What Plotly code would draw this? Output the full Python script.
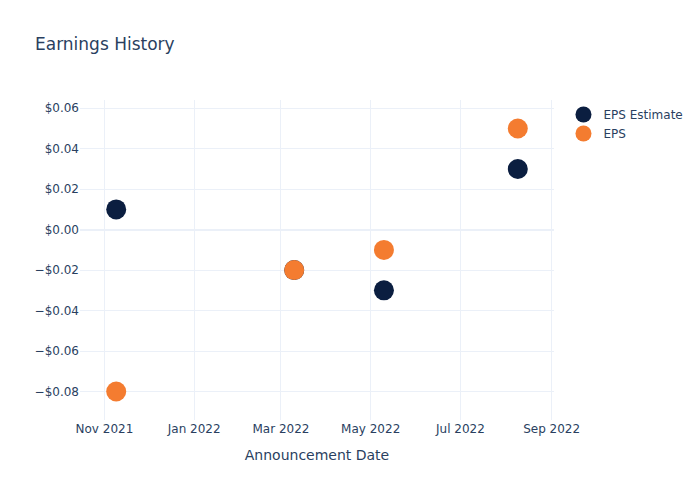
import plotly.graph_objects as go

dates = ["2021-11-09", "2022-03-10", "2022-05-10", "2022-08-09"]
eps_estimate = [0.01, -0.02, -0.03, 0.03]
eps_actual = [-0.08, -0.02, -0.01, 0.05]

fig = go.Figure()
fig.add_trace(go.Scatter(x=dates, y=eps_estimate, mode="markers", name="EPS Estimate",
                         marker=dict(color="#0b1e40", size=20)))
fig.add_trace(go.Scatter(x=dates, y=eps_actual, mode="markers", name="EPS",
                         marker=dict(color="#f47c30", size=20)))
fig.update_layout(
    template="plotly_white",
    width=700, height=500,
    font=dict(family="DejaVu Sans"),
    title=dict(text="Earnings History"),
    xaxis=dict(title=dict(text="Announcement Date")),
    yaxis=dict(tickformat="$.2f"),
)
fig.write_html("out.html")
